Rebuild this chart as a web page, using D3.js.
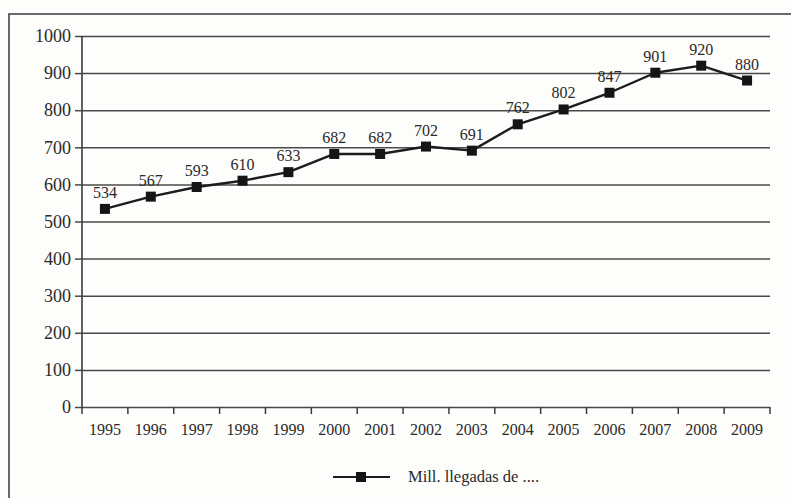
<!DOCTYPE html>
<html><head><meta charset="utf-8">
<script src="https://cdn.jsdelivr.net/npm/d3@7"></script>
<style>
html,body{margin:0;padding:0;background:#fdfdfc;}
svg{display:block;}
</style></head>
<body>
<svg id="c" width="791" height="498"></svg>
<script>
const years = ["1995","1996","1997","1998","1999","2000","2001","2002","2003","2004","2005","2006","2007","2008","2009"];
const values = [534,567,593,610,633,682,682,702,691,762,802,847,901,920,880];
const yTicks = [0,100,200,300,400,500,600,700,800,900,1000];
const seriesName = "Mill. llegadas de ....";

const FONT = "'Liberation Serif', 'Times New Roman', serif";
const svg = d3.select("#c").attr("font-family", FONT);
const W = 791, H = 498;
const m = {left:82, right:21, top:36, bottom:91};
const x = d3.scaleBand().domain(years).range([m.left, W - m.right]).padding(0);
const y = d3.scaleLinear().domain([0,1000]).range([H - m.bottom, m.top]);

// outer frame
svg.append("rect").attr("x",9).attr("y",14).attr("width",W+20).attr("height",H+20)
  .attr("fill","none").attr("stroke","#444").attr("stroke-width",1.6);

// gridlines + y axis
const yAxis = d3.axisLeft(y).tickValues(yTicks).tickSize(-(W - m.right - m.left)).tickPadding(11)
  .tickFormat(d3.format("d"));
const gy = svg.append("g").attr("transform",`translate(${m.left},0)`).call(yAxis)
  .attr("font-family", FONT).attr("font-size", 18);
gy.select(".domain").remove();
gy.selectAll(".tick line").attr("stroke","#4a4a4a").attr("stroke-width",1.5);
gy.selectAll(".tick").append("line").attr("x1",-7).attr("x2",0).attr("stroke","#4a4a4a").attr("stroke-width",1.5);
gy.selectAll(".tick text").style("font-family", FONT).style("font-size","18px").attr("fill","#2a2a2a");

// y axis line
svg.append("line").attr("x1",m.left).attr("x2",m.left).attr("y1",y(1000)).attr("y2",y(0))
  .attr("stroke","#3a3a3a").attr("stroke-width",1.6);

// x axis labels
const xAxis = d3.axisBottom(x).tickSize(0).tickPadding(17);
const gx = svg.append("g").attr("transform",`translate(0,${y(0)})`).call(xAxis)
  .attr("font-family", FONT).attr("font-size", 16);
gx.select(".domain").remove();
gx.selectAll(".tick text").style("font-family", FONT).style("font-size","16px").attr("fill","#2a2a2a");
// tick marks at band boundaries
svg.append("g").selectAll("line").data(years.slice(1).concat(["end"]))
  .join("line")
  .attr("x1",(d,i)=> i < years.length-1 ? x(d) : x(years[years.length-1]) + x.bandwidth())
  .attr("x2",(d,i)=> i < years.length-1 ? x(d) : x(years[years.length-1]) + x.bandwidth())
  .attr("y1",y(0)).attr("y2",y(0)+7)
  .attr("stroke","#3a3a3a").attr("stroke-width",1.5);
svg.append("line").attr("x1",m.left).attr("x2",m.left).attr("y1",y(0)).attr("y2",y(0)+7)
  .attr("stroke","#3a3a3a").attr("stroke-width",1.5);

// line
const cx = d => x(d) + x.bandwidth()/2;
const line = d3.line().x((d,i)=>cx(years[i])).y(d=>y(d));
svg.append("path").datum(values).attr("d",line).attr("fill","none")
  .attr("stroke","#1c1c1c").attr("stroke-width",2.4).attr("stroke-linejoin","round");

// markers
const ms = 10;
svg.append("g").selectAll("rect").data(values).join("rect")
  .attr("x",(d,i)=>cx(years[i]) - ms/2).attr("y",d=>y(d)-ms/2)
  .attr("width",ms).attr("height",ms).attr("fill","#151515");

// data labels
svg.append("g").selectAll("text").data(values).join("text")
  .attr("x",(d,i)=>cx(years[i])).attr("y",d=>y(d)-11)
  .attr("text-anchor","middle").style("font-family", FONT).style("font-size","16px")
  .attr("fill","#2a2a2a").text(d=>d);

// legend
const ly = 477;
svg.append("line").attr("x1",333).attr("x2",390).attr("y1",ly).attr("y2",ly)
  .attr("stroke","#1c1c1c").attr("stroke-width",2.2);
svg.append("rect").attr("x",361-ms/2).attr("y",ly-ms/2).attr("width",ms).attr("height",ms).attr("fill","#151515");
svg.append("text").attr("x",408).attr("y",ly+5).style("font-family", FONT).style("font-size","16.5px")
  .attr("fill","#2a2a2a").text(seriesName);
</script>
</body></html>
